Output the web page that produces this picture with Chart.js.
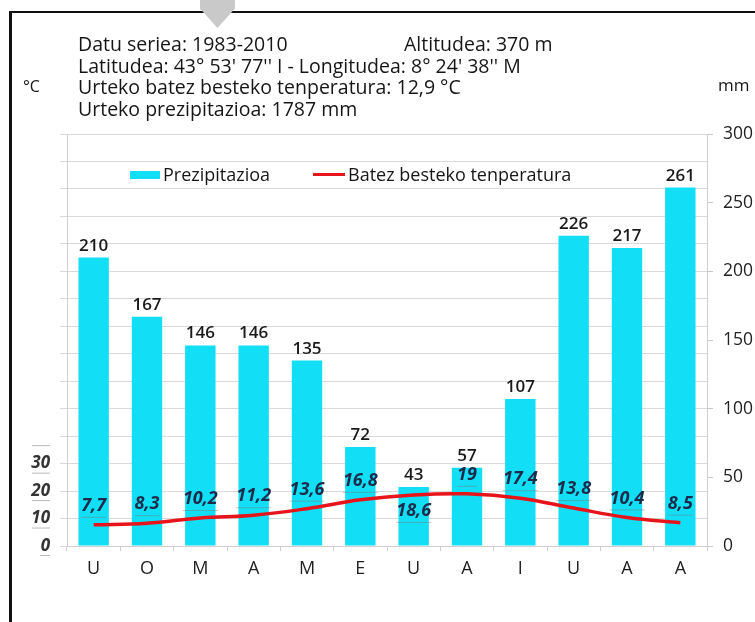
<!DOCTYPE html>
<html>
<head>
<meta charset="utf-8">
<script src="https://cdn.jsdelivr.net/npm/chart.js@4"></script>
<style>
  html, body { margin: 0; padding: 0; background: #fff; }
  #wrap { position: relative; width: 755px; height: 622px; overflow: hidden; font-family: "Open Sans", sans-serif; color: #161616; }
  #frame { position: absolute; left: 9px; top: 11px; right: -10px; bottom: -10px; border-left: 3px solid #111; border-top: 2px solid #111; }
  #pointer { position: absolute; left: 200px; top: 0; width: 35px; height: 28px; background: #c9c9c9;
    clip-path: polygon(0 0, 100% 0, 100% 30%, 50% 100%, 0 30%); }
  .txt { position: absolute; font-size: 19.5px; line-height: 22px; white-space: nowrap; }
  .leg { position: absolute; font-size: 18px; line-height: 20px; white-space: nowrap; }
  canvas { position: absolute; left: 0; top: 0; }
</style>
</head>
<body>
<div id="wrap">
  <canvas id="climateChart" width="755" height="622"></canvas>
  <div id="frame"></div>
  <div id="pointer"></div>

  <div class="txt" style="left:78px; top:33px;">Datu seriea: 1983-2010</div>
  <div class="txt" style="left:404px; top:33px;">Altitudea: 370 m</div>
  <div class="txt" style="left:78px; top:55px;">Latitudea: 43° 53' 77'' I - Longitudea: 8° 24' 38'' M</div>
  <div class="txt" style="left:78px; top:76px;">Urteko batez besteko tenperatura: 12,9 °C</div>
  <div class="txt" style="left:78px; top:98px;">Urteko prezipitazioa: 1787 mm</div>
  <div class="txt" style="left:23px; top:75px; font-size:16px;">°C</div>
  <div class="txt" style="left:718px; top:74px; font-size:17px;">mm</div>

  <div style="position:absolute; left:130px; top:171px; width:30px; height:8px; background:#12DEF5;"></div>
  <div class="leg" style="left:163px; top:164px;">Prezipitazioa</div>
  <div style="position:absolute; left:313px; top:173px; width:32px; height:3px; background:#E8141B;"></div>
  <div class="leg" style="left:348px; top:164px;">Batez besteko tenperatura</div>
</div>

<script>
// climograph - precipitation bars + mean temperature line

const months = ['U', 'O', 'M', 'A', 'M', 'E', 'U', 'A', 'I', 'U', 'A', 'A'];
const precipitation = [210, 167, 146, 146, 135, 72, 43, 57, 107, 226, 217, 261];
const temperature = [7.7, 8.3, 10.2, 11.2, 13.6, 16.8, 18.6, 19, 17.4, 13.8, 10.4, 8.5];
const tempTicks = [0, 10, 20, 30];
const precipMax = 300;
const tempMax = 150;

// value labels on bars and temperature points
const valueLabels = {
  id: 'valueLabels',
  afterDatasetsDraw(chart) {
    const ctx = chart.ctx;
    ctx.save();
    ctx.textAlign = 'center';

    const bars = chart.getDatasetMeta(0).data;
    ctx.font = '600 17px "Open Sans"';
    ctx.fillStyle = '#1a1a1a';
    ctx.textBaseline = 'alphabetic';
    bars.forEach((b, i) => {
      ctx.fillText(String(precipitation[i]), b.x, b.y - 7);
    });

    const pts = chart.getDatasetMeta(1).data;
    ctx.font = 'italic 700 18px "Open Sans"';
    ctx.textBaseline = 'middle';
    pts.forEach((p, i) => {
      const txt = String(temperature[i]).replace('.', ',');
      const y = i === 6 ? p.y + 16 : p.y - 19;
      ctx.fillStyle = '#1c2b4a';
      ctx.fillText(txt, p.x, y);
      const w = ctx.measureText(txt).width;
      ctx.fillStyle = 'rgba(120,120,120,0.45)';
      ctx.fillRect(p.x - w / 2, y + 11, w, 1);
    });

    // little underlines under the °C tick labels
    const yT = chart.scales.yT;
    ctx.fillStyle = 'rgba(120,120,120,0.5)';
    tempTicks.forEach(v => {
      const y = yT.getPixelForValue(v);
      ctx.fillRect(v === 0 ? 40 : 32, y + 9, v === 0 ? 10 : 18, 1);
    });
    ctx.fillRect(32, yT.getPixelForValue(40) + 9, 18, 1);
    ctx.restore();
  }
};

new Chart(document.getElementById('climateChart'), {
  data: {
    labels: months,
    datasets: [{
      type: 'bar',
      label: 'Prezipitazioa',
      data: precipitation,
      yAxisID: 'yP',
      backgroundColor: '#12DEF5',
      barPercentage: 0.57,
      categoryPercentage: 1,
      order: 2
    }, {
      type: 'line',
      label: 'Batez besteko tenperatura',
      data: temperature,
      yAxisID: 'yT',
      borderColor: '#E8141B',
      borderWidth: 3.5,
      pointRadius: 0,
      tension: 0.4,
      order: 1
    }]
  },
  options: {
    responsive: false,
    animation: false,
    layout: { padding: { top: 134, left: 0, right: 0, bottom: 0 } },
    plugins: {
      legend: { display: false },
      tooltip: { enabled: false }
    },
    scales: {
      x: {
        grid: { drawOnChartArea: false, offset: true, tickLength: 5, color: '#d0d0d0' },
        border: { color: '#d0d0d0' },
        ticks: { padding: 7, color: '#222', font: { family: 'Open Sans', size: 18 } },
        afterFit: s => { s.height = 76; }
      },
      yT: {
        position: 'left',
        min: 0,
        max: tempMax,
        ticks: {
          stepSize: 10,
          padding: 10,
          color: '#333',
          font: { family: 'Open Sans', size: 17, style: 'italic', weight: 'bold' },
          callback: v => tempTicks.includes(v) ? v : ''
        },
        grid: { color: '#d9d9d9', tickLength: 7 },
        border: { color: '#d0d0d0' },
        afterFit: s => { s.width = 67; }
      },
      yP: {
        position: 'right',
        min: 0,
        max: precipMax,
        ticks: {
          stepSize: 50,
          padding: 10,
          color: '#222',
          font: { family: 'Open Sans', size: 17.5 }
        },
        grid: { drawOnChartArea: false, tickLength: 6, color: '#c8c8c8' },
        border: { color: '#d0d0d0' },
        afterFit: s => { s.width = 48; }
      }
    }
  },
  plugins: [valueLabels]
});
</script>
</body>
</html>
